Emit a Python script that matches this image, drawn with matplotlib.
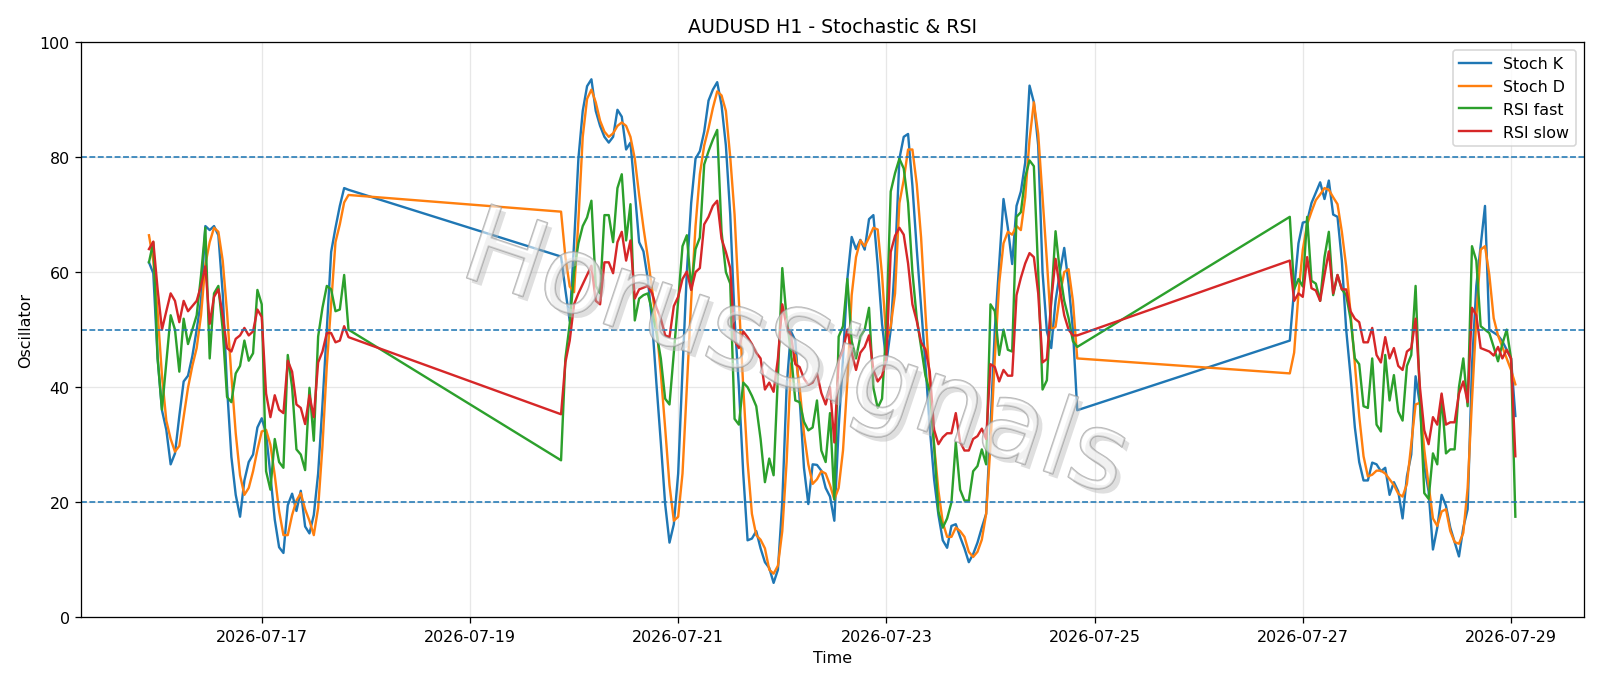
import matplotlib
matplotlib.use("Agg")
import matplotlib.pyplot as plt
import matplotlib.dates as mdates
import matplotlib.patheffects as pe
import pandas as pd

# hourly bars, market closed at the weekends
segments = [("2026-07-15 22:00", 47), ("2026-07-19 21:00", 120), ("2026-07-26 21:00", 53)]

stoch_k = [
    61.7, 59.8, 45, 36, 32.6, 26.6, 28.5, 35, 41, 42, 45.4, 50, 55, 68, 67.3, 68, 66.4, 56.3, 40, 27.9,
    21.3, 17.5, 23.8, 27, 28.3, 33, 34.6, 32, 24.7, 17, 12.2, 11.2, 19.5, 21.5, 18.5, 22, 15.8, 14.6,
    17.8, 25, 37, 50, 63.5, 67.7, 71.5, 74.6, 74.3,
    62.7, 56.9, 51.5, 65, 79.7, 88, 92.3, 93.5, 88, 85.4, 83.5, 82.5, 83.5, 88.2, 87, 81.3, 82.5, 74,
    65.2, 63.6, 58.8, 51.3, 40.5, 30.4, 19.7,
    13, 16.2, 25, 43, 60, 72, 79.7, 81, 84.4, 89.8, 91.7, 93, 89, 82, 70, 52, 40, 25, 13.4, 13.7, 15,
    12, 9.6, 8.6, 6, 8.3, 20,
    40, 49.7, 48.1, 38, 26, 19.7, 26.6, 26.5, 25.5, 22.5, 21, 16.8, 33, 45, 58.8, 66.1, 64, 65.6, 63.9,
    69.2, 69.9, 61.2, 51, 44.3, 50, 62, 79.7,
    83.5, 84, 75, 64, 54, 44, 33, 24, 17.8, 13.4, 12.1, 15.9, 16.2, 14, 12, 9.6, 11, 13, 15.6, 18, 33,
    50, 61.4, 72.7, 67.7, 61.4, 71.5,
    74, 79, 92.4, 89.5, 82, 60, 49.7, 46.8, 55, 60, 64.2, 58, 50, 36,
    48.1, 57, 65, 68.6, 68.8, 72, 73.8, 75.6, 72.7, 75.9, 70, 69.6, 62, 50, 42, 33, 27, 23.8, 23.8,
    26.9, 26.6, 25.4,
    26, 21.3, 23.5, 21.9, 17.2, 24.5, 28.3, 41.9, 37, 26.3, 21.9, 11.8, 15.6, 21.3, 19.4, 15.6, 13.1,
    10.6, 15.6, 18.8, 43.7, 57.6, 64.5, 71.5, 50, 49.5, 49, 48, 46.5, 45, 35,
]
stoch_d = [
    66.4, 62, 53, 42, 34.2, 31, 28.8, 29.8, 34.8, 39.9, 43.7, 46.8, 52.5, 61.3, 65.2, 67.7, 67, 62, 53,
    42, 32, 24.7, 21.3, 22.5, 25.4, 29.1, 32.3, 32.6, 30, 24.7, 18.5, 14.3, 14.3, 17.8, 20.3, 21.6,
    18.8, 16.8, 14.3, 19, 29.8, 43.7, 54.4, 65.2, 68.3, 72.1, 73.4,
    70.5, 62.6, 57.5, 56.5, 69, 83.5, 90.1, 91.7, 89.5, 86.3, 84.4, 83.5, 84.1, 85.4, 86, 85.4, 83.5,
    79.7, 73.4, 67.7, 62.6, 56.9, 50.6, 42.4, 32.9,
    23, 16.8, 17.5, 25, 40, 55, 68, 77, 82, 85, 88.5, 91.4, 90.7, 88, 80, 70, 55, 40, 27, 18, 14.3,
    13.5, 12, 8.3, 7.6, 9, 15,
    27, 44, 45.6, 40, 32, 26.6, 23.2, 24, 25.4, 25, 23, 20.5, 22.5, 29, 41, 56, 62.6, 65.5, 64.5, 66,
    67.7, 67.4, 59.5, 48.1, 50.6, 56.3, 72,
    76, 81.3, 81.3, 75.3, 66, 53, 41, 30, 22, 16.5, 14, 14, 15.6, 15, 14, 11.4, 10.5, 11.4, 13.5, 18,
    30, 45, 58, 65, 67, 66.5, 68,
    67.3, 73, 83, 89.5, 84, 73, 62, 50, 50.5, 56, 60, 60.5, 55, 45,
    42.4, 46, 56.3, 63.9, 68.3, 70.5, 72.5, 73.5, 74.6, 74.3, 73, 71.8, 67, 61, 53, 44, 35, 28, 24.5,
    24.8, 25.5, 25.5,
    25, 24, 23, 21.5, 21, 23.2, 30.1, 37, 37.3, 29.2, 23, 17.2, 15.9, 18.4, 18.8, 15, 13.1, 12.8,
    14.7, 22.5, 37.7, 51.9, 63.9, 64.5, 59.5, 52, 49, 47, 45, 43, 40.5,
]
rsi_fast = [
    61.7, 65.2, 45, 36.1, 44.3, 52.5, 50, 42.7, 51.9, 47.5, 50, 52.5, 59.4, 67.7, 45, 56.3, 57.6, 50,
    38.3, 37.4, 42.4, 43.7, 48.1, 44.6, 45.9, 56.9, 54.4, 25.4, 22.2, 31, 27, 26, 45.6, 40, 29.2, 28.3,
    25.6, 39.9, 30.7, 48.8, 53.8, 57.6, 57, 53.2, 53.5, 59.5, 50,
    27.3, 45, 51, 60, 65, 68, 69.5, 72.4, 57.6, 56.3, 69.9, 69.9, 65.2, 74.6, 77, 65.5, 71.8, 51.6,
    55.4, 56, 56.3, 53.2, 49.4, 45, 38,
    37, 46, 55, 64.5, 66.4, 57, 64, 66, 78.7, 81, 83, 84.7, 67, 60, 58, 34.5, 33.5, 40.8, 40, 38.5,
    36.7, 31, 23.5, 27.6, 24.7, 42, 60.7,
    52, 46, 37.7, 37.4, 34, 32.5, 33, 37.7, 29, 27, 35.5, 20.5, 48.8, 50.6, 58.8, 48, 45, 48.8, 50,
    53.8, 39.9, 36.4, 38, 50.6, 74, 77.2, 79.7,
    78, 72, 60, 52, 47, 42, 39.2, 29.8, 18.4, 15.6, 17.2, 20, 30.4, 22.2, 20.3, 20.3, 25.4, 26.3, 29.2,
    26.6, 54.4, 53.2, 45.6, 50, 46.5, 46.2, 69.6,
    70.4, 76.5, 79.4, 78.4, 60, 39.6, 41.2, 55, 67.1, 60, 55, 52, 48, 47,
    69.6, 57, 58.8, 57.5, 69.6, 58.5, 58, 55, 62.6, 67, 56, 59.5, 57, 56, 51.9, 45, 44, 36.7, 36.4, 45,
    33.5, 32.3,
    45.6, 37.7, 42.1, 35.8, 34.2, 43.7, 45.6, 57.6, 38, 21.6, 20.6, 28.5, 26.6, 38.6, 28.5, 29.2, 29.2,
    40, 45, 36.7, 64.5, 62, 50.6, 50, 49.4, 47, 44.5, 47.5, 50, 45, 17.5,
]
rsi_slow = [
    64, 65.3, 57, 50, 53.2, 56.3, 55, 51.3, 55, 53.2, 54.1, 55, 57.6, 61, 51, 55.7, 57, 52.5, 46.8,
    46.2, 48.4, 49, 50.3, 49, 49.7, 53.5, 52.2, 38.9, 34.8, 38.6, 36.1, 35.5, 44.6, 42.7, 37, 36.4,
    33.6, 38.6, 34.8, 44.3, 46.2, 49.4, 49.4, 47.8, 48.1, 50.6, 48.7,
    35.3, 44.3, 48.1, 54.4, 56.3, 57.9, 59.5, 61.1, 55, 54.4, 61.7, 61.7, 59.8, 65.2, 67, 62, 65.5,
    55.4, 57, 57.3, 57.6, 56.3, 53.8, 51.9, 49,
    48.7, 54.1, 55.7, 58.8, 60.1, 56.9, 60, 60.7, 68.3, 69.6, 71.5, 72.4, 65.8, 63.5, 60.7, 48.1, 46.8,
    49.7, 48.7, 47.5, 46, 45, 39.6, 40.8, 39.2, 45, 54.4,
    50.6, 49, 44, 43.5, 41.5, 40.4, 40.8, 42.4, 39, 37, 40, 30.4, 44.6, 46.5, 50, 46, 43, 46, 47, 49,
    43, 41, 42, 45, 63.5, 66.3, 67.7,
    66.5, 61.5, 54.4, 51.5, 47.8, 46.6, 42.7, 32.6, 30.1, 31.3, 32, 32, 35.5, 30.5, 29, 29, 31, 31.5,
    32.8, 31, 44, 43.5, 41, 43, 42, 42, 56,
    59, 61.5, 63.3, 62.6, 56.3, 44.3, 44.9, 55, 62.3, 57, 52.5, 50, 49, 49,
    62, 55, 56.3, 55.7, 62.6, 57.2, 56.8, 55, 59.5, 63.6, 56.3, 59.5, 57, 57, 53.2, 51.9, 51.3, 47.8,
    47.8, 50.3, 45.6, 44.3,
    48.7, 45, 46.8, 43.7, 43, 46.2, 46.8, 51.9, 40, 32.5, 30.1, 34.8, 33.5, 38.9, 33.5, 33.9, 33.9,
    38.9, 41, 37.4, 53.8, 52.5, 46.8, 46.5, 46.2, 45.5, 47, 45, 46.5, 45, 28,
]

ranges = [pd.date_range(start, periods=n, freq="h") for start, n in segments]
times = ranges[0].append(ranges[1:])

fig, ax = plt.subplots(figsize=(14, 6.0025), dpi=114.2857)
fig.subplots_adjust(left=0.0504, right=0.9898, top=0.9375, bottom=0.0985)

ax.plot(times, stoch_k, label="Stoch K")
ax.plot(times, stoch_d, label="Stoch D")
ax.plot(times, rsi_fast, label="RSI fast")
ax.plot(times, rsi_slow, label="RSI slow")

for level in (80, 50, 20):
    ax.axhline(level, color="C0", linestyle="--", linewidth=1)

ax.set_ylim(0, 100)
ax.set_title("AUDUSD H1 - Stochastic & RSI")
ax.set_xlabel("Time")
ax.set_ylabel("Oscillator")
ax.grid(True, alpha=0.3)
ax.legend(loc="upper right")

ax.xaxis.set_major_locator(mdates.DayLocator(bymonthday=range(1, 32, 2)))
ax.xaxis.set_major_formatter(mdates.DateFormatter("%Y-%m-%d"))

# watermark: hollow grey letters with a soft shadow
fig.text(0.497, 0.478, "HorusSignals", fontsize=67, color=(1, 1, 1, 0.35),
         rotation=-18.5, ha="center", va="center",
         path_effects=[pe.SimplePatchShadow(offset=(3, -3), shadow_rgbFace="#b8b8b8", alpha=0.45),
                       pe.Stroke(linewidth=1.1, foreground=(0.6, 0.6, 0.6, 0.7)),
                       pe.Normal()])

fig.savefig("out.png", dpi=fig.dpi)
